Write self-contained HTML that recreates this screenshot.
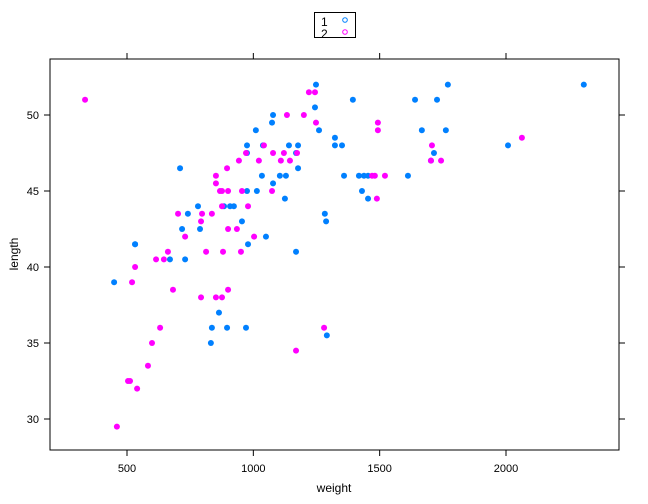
<!DOCTYPE html>
<html><head><meta charset="utf-8"><style>
html,body{margin:0;padding:0;background:#fff;}
svg{display:block;font-family:"Liberation Sans",sans-serif;}
</style></head><body>
<svg id="chart" width="648" height="504"></svg>
<script>
const xTicks=[500,1000,1500,2000];
const yTicks=[30,35,40,45,50];
const groupLabels=["1","2"];
const blueW=[449,532,710,781,741,718,789,532,955,979,1050,670,730,1010,975,1038,975,1034,975,1014,884,908,923,864,836,896,971,832,1291,1169,1248,1770,2308,1394,1640,1727,1244,1078,1074,1260,1667,1762,1323,1323,1351,1141,1177,2008,1715,1169,1177,1105,1129,1359,1418,1438,1454,1612,1078,1430,1125,1454,1283,1288,1703];
const blueL=[39,41.5,46.5,44,43.5,42.5,42.5,41.5,43,41.5,42,40.5,40.5,49,48,48,47.5,46,45,45,44,44,44,37,36,36,36,35,35.5,41,52,52,52,51,51,51,50.5,50,49.5,49,49,49,48.5,48,48,48,48,48,47.5,47.5,46.5,46,46,46,46,46,46,46,45.5,45,44.5,44.5,43.5,43,47];
const pinkW=[334,1042,971,943,1022,896,852,852,868,876,900,955,876,979,702,797,836,793,900,935,730,1003,662,813,880,951,615,646,532,520,682,793,852,876,900,631,599,583,504,512,540,460,1280,1169,1220,1244,1133,1200,1248,1493,1493,2063,1707,1703,1743,1078,1121,1173,1109,1145,1470,1481,1521,1074,1489];
const pinkL=[51,48,47.5,47,47,46.5,46,45.5,45,45,45,45,44,44,43.5,43.5,43.5,43,42.5,42.5,42,42,41,41,41,41,40.5,40.5,40,39,38.5,38,38,38,38.5,36,35,33.5,32.5,32.5,32,29.5,36,34.5,51.5,51.5,50,50,49.5,49.5,49,48.5,48,47,47,47.5,47.5,47.5,47,47,46,46,46,45,44.5];
const NS="http://www.w3.org/2000/svg";
const svg=document.getElementById('chart');
const L=50,R=619,T=59,B=450;
function sx(w){return 127+(w-500)*0.25266;}
function sy(l){return 419-(l-30)*15.2;}
function mk(tag,attrs,parent){const e=document.createElementNS(NS,tag);for(const k in attrs)e.setAttribute(k,attrs[k]);(parent||svg).appendChild(e);return e;}
const frame=mk('rect',{x:L,y:T,width:R-L,height:B-T,fill:'none',stroke:'#000','stroke-width':1});


xTicks.forEach(v=>{const x=sx(v);
 const t1=mk('line',{x1:x,x2:x,y1:B,y2:B+6,stroke:'#000'});
 
 
 const t2=mk('line',{x1:x,x2:x,y1:T,y2:T-6,stroke:'#000'});
 
 
 const tx=mk('text',{x:x,y:472,'text-anchor':'middle','font-size':11});tx.textContent=v;
 
 
});
yTicks.forEach(v=>{const y=sy(v);
 const t1=mk('line',{x1:L,x2:L-6,y1:y,y2:y,stroke:'#000'});
 
 
 const t2=mk('line',{x1:R,x2:R+6,y1:y,y2:y,stroke:'#000'});
 
 
 const tx=mk('text',{x:39,y:y+4,'text-anchor':'end','font-size':11});tx.textContent=v;
 
 
});
const xt=mk('text',{x:334,y:492,'text-anchor':'middle','font-size':12});xt.textContent='weight';


const yt=mk('text',{x:18,y:254,'text-anchor':'middle','font-size':12,transform:'rotate(-90 18 254)'});yt.textContent='length';


function pts(W,Lv,col,name){for(let i=0;i<W.length;i++){const c=mk('circle',{cx:sx(W[i]),cy:sy(Lv[i]),r:3,fill:col});
 
 }}
pts(blueW,blueL,'#0080ff','point-group-1');
pts(pinkW,pinkL,'#ff00ff','point-group-2');
const lg=mk('rect',{x:314.5,y:12.5,width:41,height:25,fill:'#fff',stroke:'#000'});


const lcol=['#0080ff','#ff00ff'];
groupLabels.forEach((g,i)=>{const y=22+i*12;
 const t=mk('text',{x:321,y:y+4,'font-size':12});t.textContent=g;
 
 
 const c=mk('circle',{cx:345,cy:y-2,r:2.3,fill:'none',stroke:lcol[i]});
 
 
});
</script>
</body></html>
